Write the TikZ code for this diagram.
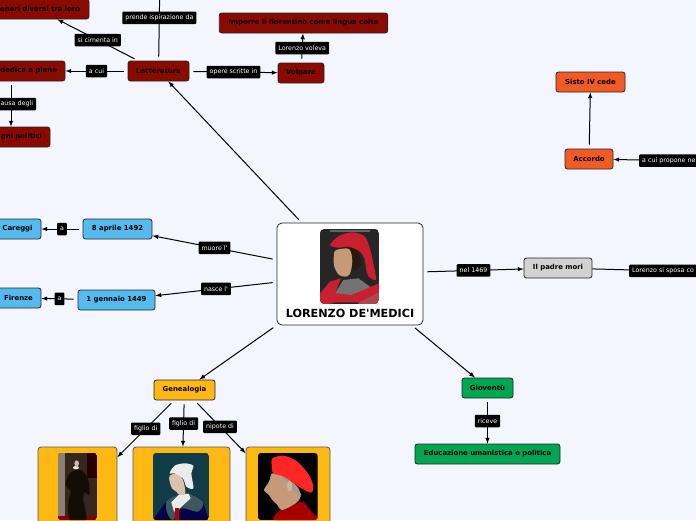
\documentclass[tikz,border=0pt]{standalone}
\usepackage{fontspec}
\newfontfamily\mapfont{DejaVu Sans}
\definecolor{pagetint}{HTML}{F3F6FF}
\definecolor{litred}{HTML}{8A0A00}
\definecolor{datablue}{HTML}{55BBEE}
\definecolor{famgold}{HTML}{FDB813}
\definecolor{popeorange}{HTML}{F15A22}
\definecolor{youthgreen}{HTML}{00A651}
\definecolor{fathergrey}{HTML}{D2D2D2}
\definecolor{hatred}{HTML}{C9202F}
\definecolor{skinwarm}{HTML}{C59A78}
\definecolor{tealdark}{HTML}{103C48}
\definecolor{umber}{HTML}{35271E}
\tikzset{
    mapbox/.style={draw=black!85, rounded corners=2.5pt, minimum height=20pt, inner sep=2pt, line width=.8pt, font=\mapfont\fontsize{6.9}{8}\selectfont\bfseries},
    redbox/.style={mapbox, fill=litred},
    bluebox/.style={mapbox, fill=datablue},
    goldbox/.style={mapbox, fill=famgold},
    orangebox/.style={mapbox, fill=popeorange},
    greenbox/.style={mapbox, fill=youthgreen},
    greybox/.style={mapbox, fill=fathergrey},
    photobox/.style={draw=black!65, fill=famgold, rounded corners=3pt, line width=.8pt, minimum height=100pt},
    linklabel/.style={fill=black, text=white, rounded corners=1pt, inner sep=3pt, minimum height=12.5pt, font=\mapfont\fontsize{6.3}{8}\selectfont},
    linkline/.style={line width=1pt, shorten <=4pt, -latex},
    portrait/.style={x=.3333pt, y=-.3333pt}
}
\begin{document}
\begin{tikzpicture}[x=1pt,y=-1pt]
    \clip (0,0) rectangle (696,520);
    \fill[pagetint] (0,0) rectangle (696,520);
    % centre
    \node[draw=black!85, fill=white, rounded corners=5pt, line width=.8pt, minimum width=146pt, minimum height=102pt] (medici) at (350,274) {};
    \node[font=\mapfont\fontsize{11.2}{12}\selectfont\bfseries, inner sep=0pt] (mediciname) [below of=medici, node distance=39pt] {LORENZO DE'MEDICI};
    % letteratura
    \node[redbox, minimum width=61pt] (letteratura) at (158.5,71) {Letteratura};
    \node[redbox, inner xsep=8pt, text width=92pt, align=right] (dedica) [left of=letteratura, node distance=147.5pt] {dedica a pieno};
    \node[redbox, inner xsep=8pt, text width=62pt, align=right] (impegni) [below of=dedica, node distance=66pt] {gni politici};
    \node[redbox, inner xsep=9pt, text width=86pt, align=right] (generi) [left of=letteratura, node distance=121.5pt, yshift=62pt] {eneri diversi tra loro};
    \node[redbox, minimum width=46pt] (volgare) [right of=letteratura, node distance=142.5pt, yshift=-2pt] {Volgare};
    \node[redbox, minimum width=168.5pt] (imporre) [above of=volgare, node distance=50pt, xshift=2.5pt] {Imporre il fiorentino come lingua colta};
    \coordinate (ispirazione) at (160,-25);
    % date
    \node[bluebox, minimum width=69pt] (morte) at (117.5,229) {8 aprile 1492};
    \node[bluebox, minimum width=47pt] (careggi) [left of=morte, node distance=100pt] {Careggi};
    \node[bluebox, minimum width=77pt] (nascita) at (116.5,300) {1 gennaio 1449};
    \node[bluebox, minimum width=45pt] (firenze) [left of=nascita, node distance=98pt, yshift=2pt] {Firenze};
    % genealogia
    \node[goldbox, minimum width=61pt] (genealogia) at (184.5,390) {Genealogia};
    \node[photobox, minimum width=79pt] (padre) [left of=genealogia, node distance=107pt, yshift=-107pt] {};
    \node[photobox, minimum width=97pt] (madre) [below of=genealogia, node distance=107pt, xshift=-3pt] {};
    \node[photobox, minimum width=84pt] (nonno) [right of=genealogia, node distance=103.5pt, yshift=-107pt] {};
    % destra
    \node[greenbox, minimum width=51pt] (gioventu) at (487.5,388) {Gioventù};
    \node[greenbox, minimum width=145pt] (educazione) [below of=gioventu, node distance=66pt] {Educazione umanistica e politica};
    \node[greybox, minimum width=68pt] (mori) at (558,268) {Il padre mori};
    \coordinate (sposa) at (746,273);
    \node[orangebox, minimum width=48pt] (accordo) at (589,159) {Accordo};
    \node[orangebox, minimum width=69pt] (sisto) [above of=accordo, node distance=77pt, xshift=1.5pt] {Sisto IV cede};
    \coordinate (propone) at (741,162);
    % ritratti
    \begin{scope}[shift={(315,225)}, portrait]
        \clip[rounded corners=4pt] (15,12) rectangle (192,237);
        \fill[black!85] (15,12) rectangle (192,237);
        \fill[black!60] (45,14) rectangle (165,20);
        \fill[black!80!brown] plot[smooth cycle] coordinates {(72,72) (125,72) (138,120) (115,135) (100,105)};
        \fill[hatred] plot[smooth cycle] coordinates {(45,60) (72,33) (112,22) (150,35) (166,75) (176,120) (183,165) (158,150) (148,100) (132,78) (100,65) (70,68)};
        \fill[skinwarm] plot[smooth cycle] coordinates {(62,76) (102,72) (112,108) (104,148) (88,155) (70,148) (58,125) (56,100)};
        \fill[black!55] (60,205) -- (85,165) -- (130,160) -- (165,185) -- (165,205) -- (100,215) -- cycle;
        \fill[hatred!60!gray] (130,232) -- (192,200) -- (192,237) -- (130,237) -- cycle;
        \fill[hatred] (15,205) -- (45,170) -- (78,160) -- (60,205) -- (110,210) -- (192,175) -- (192,200) -- (130,232) -- (60,232) -- (45,237) -- (15,237) -- cycle;
    \end{scope}
    \begin{scope}[shift={(50,445)}, portrait]
        \clip[rounded corners=3pt] (24,24) rectangle (141,225);
        \fill[umber] (24,24) rectangle (141,225);
        \fill[gray!80!brown] (24,24) rectangle (44,225);
        \fill[black!85!red] (112,24) rectangle (141,100);
        \fill[red!50!black] (24,212) rectangle (141,225);
        \fill[black!90!brown] plot[smooth cycle] coordinates {(62,82) (96,76) (116,110) (118,150) (104,142) (100,165) (108,225) (60,225) (55,170) (62,140) (46,118)};
        \fill[black!10] (78,68) ellipse (9 and 5);
        \fill[skinwarm!70!white] (80,55) ellipse (7 and 9);
    \end{scope}
    \begin{scope}[shift={(148,445)}, portrait]
        \clip[rounded corners=3pt] (15,24) rectangle (183,225);
        \fill[tealdark] (15,24) rectangle (183,225);
        \fill[black!70!blue] (15,225) -- (52,172) -- (165,172) -- (183,225) -- cycle;
        \fill[tealdark!60!gray] plot[smooth cycle] coordinates {(55,170) (90,150) (122,146) (165,172) (150,200) (100,190) (75,225) (58,205)};
        \fill[black!8] (70,172) -- (92,150) -- (122,146) -- (128,160) -- (95,190) -- (78,200) -- cycle;
        \fill[red!70!black] (80,190) rectangle (92,225);
        \fill[skinwarm!60!white] plot[smooth cycle] coordinates {(65,92) (90,85) (105,105) (112,145) (95,150) (85,140) (72,130) (65,110)};
        \fill[black!8] plot[smooth cycle] coordinates {(65,85) (80,62) (110,55) (136,62) (130,85) (136,130) (115,125) (105,100) (80,85)};
    \end{scope}
    \begin{scope}[shift={(254,445)}, portrait]
        \clip[rounded corners=3pt] (12,24) rectangle (191,225);
        \fill[black] (12,24) rectangle (191,225);
        \fill[red!65!black] plot[smooth cycle] coordinates {(62,225) (80,195) (130,175) (148,170) (172,200) (188,225)};
        \fill[skinwarm] plot[smooth cycle] coordinates {(55,85) (90,95) (130,125) (140,155) (125,175) (85,195) (70,180) (55,165) (45,150) (30,135) (45,110)};
        \fill[gray!80] plot[smooth cycle] coordinates {(85,95) (105,103) (142,150) (125,142) (100,112)};
        \fill[skinwarm!75!white] (107,123) ellipse (8 and 16);
        \fill[red!80!pink] plot[smooth cycle] coordinates {(55,40) (90,32) (130,50) (165,90) (178,125) (170,143) (135,125) (90,95) (58,85) (53,60)};
    \end{scope}
    % collegamenti
    \path[linkline]
    (medici) edge (letteratura)
        edge node[linklabel] (lblmuore) {muore l'} (morte)
        edge node[linklabel] (lblnasce) {nasce l'} (nascita)
        edge (genealogia)
        edge (gioventu)
        edge node[linklabel] (lblnel) {nel 1469} (mori)
    (letteratura) edge node[linklabel] (lblcui) {a cui} (dedica)
        edge node[linklabel] (lblcimenta) {si cimenta in} (generi)
        edge node[linklabel] (lblopere) {opere scritte in} (volgare)
    (dedica) edge node[linklabel, text width=44pt, align=right] (lblcausa) {ausa degli} (impegni)
    (volgare) edge node[linklabel] (lblvoleva) {Lorenzo voleva} (imporre)
    (morte) edge node[linklabel] (lblmorte) {a} (careggi)
    (nascita) edge node[linklabel] (lblnata) {a} (firenze)
    (genealogia) edge node[linklabel] (lblpadre) {figlio di} (padre)
        edge node[linklabel] (lblmadre) {figlio di} (madre)
        edge node[linklabel] (lblnonno) {nipote di} (nonno)
    (gioventu) edge node[linklabel] (lblriceve) {riceve} (educazione)
    (accordo) edge (sisto)
    (propone) edge node[linklabel, text width=70pt, align=left] (lblpropone) {a cui propone ne} (accordo);
    \path[line width=1pt]
    (letteratura) edge[shorten <=4pt] node[linklabel] (lblprende) {prende ispirazione da} (ispirazione)
    (mori) edge node[linklabel, text width=74pt, align=left] (lblsposa) {Lorenzo si sposa co} (sposa);
\end{tikzpicture}
\end{document}
